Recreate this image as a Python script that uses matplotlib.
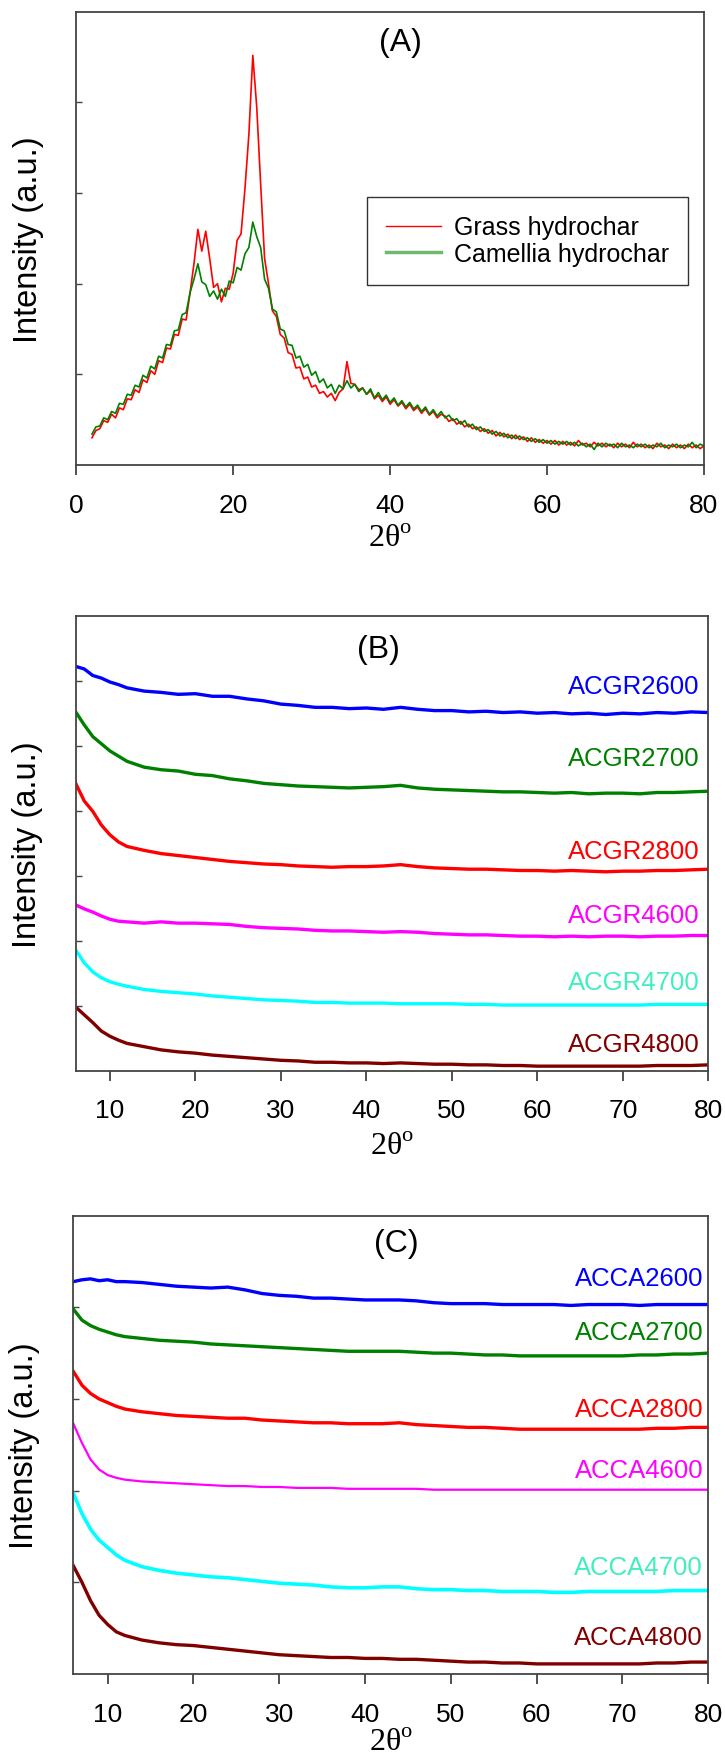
import matplotlib.pyplot as plt
from matplotlib.lines import Line2D
import numpy as np

plt.rcParams['font.family'] = ['Liberation Sans', 'DejaVu Sans']
plt.rcParams['mathtext.fontset'] = 'custom'
plt.rcParams['mathtext.rm'] = 'Liberation Serif'

# ---- panel A: hydrochars (2-theta grid, 0.5 degree steps) ----
two_theta_a = np.arange(2.0, 80.01, 0.5)
grass = [
    0.30, 0.38, 0.40, 0.49, 0.47, 0.56, 0.52, 0.63, 0.61, 0.73,
    0.72, 0.83, 0.80, 0.94, 0.91, 1.04, 1.00, 1.15, 1.13, 1.29,
    1.28, 1.44, 1.43, 1.61, 1.60, 1.90, 2.22, 2.60, 2.36, 2.58,
    2.28, 1.96, 2.00, 1.80, 1.95, 1.94, 2.12, 2.48, 2.55, 3.05,
    3.65, 4.52, 3.95, 3.10, 2.28, 2.00, 1.70, 1.64, 1.44, 1.40,
    1.24, 1.22, 1.07, 1.08, 0.95, 0.97, 0.86, 0.88, 0.79, 0.81,
    0.75, 0.79, 0.71, 0.80, 0.84, 1.14, 0.90, 0.89, 0.83, 0.85,
    0.78, 0.82, 0.73, 0.77, 0.70, 0.75, 0.67, 0.72, 0.65, 0.69,
    0.62, 0.67, 0.60, 0.64, 0.57, 0.62, 0.55, 0.59, 0.52, 0.56,
    0.54, 0.48, 0.51, 0.45, 0.48, 0.42, 0.45, 0.40, 0.42, 0.37,
    0.40, 0.35, 0.38, 0.32, 0.36, 0.31, 0.34, 0.29, 0.33, 0.28,
    0.31, 0.26, 0.30, 0.25, 0.28, 0.24, 0.27, 0.23, 0.27, 0.22,
    0.26, 0.22, 0.25, 0.21, 0.27, 0.22, 0.24, 0.20, 0.25, 0.21,
    0.24, 0.20, 0.23, 0.19, 0.24, 0.20, 0.23, 0.19, 0.25, 0.20,
    0.23, 0.19, 0.22, 0.18, 0.24, 0.20, 0.22, 0.18, 0.23, 0.19,
    0.22, 0.18, 0.23, 0.19, 0.22, 0.18, 0.21,
]
camellia = [
    0.34, 0.42, 0.43, 0.52, 0.50, 0.59, 0.57, 0.68, 0.67, 0.78,
    0.77, 0.88, 0.86, 0.99, 0.96, 1.09, 1.06, 1.20, 1.18, 1.33,
    1.32, 1.48, 1.49, 1.66, 1.68, 1.90, 2.05, 2.22, 2.02, 1.99,
    1.86, 1.92, 1.83, 1.94, 1.86, 2.03, 2.01, 2.18, 2.15, 2.33,
    2.40, 2.68, 2.52, 2.40, 2.05, 1.95, 1.72, 1.69, 1.50, 1.48,
    1.33, 1.32, 1.18, 1.20, 1.08, 1.11, 0.99, 1.03, 0.91, 0.95,
    0.85, 0.89, 0.79, 0.88, 0.84, 0.93, 0.85, 0.89, 0.81, 0.85,
    0.78, 0.84, 0.74, 0.80, 0.72, 0.77, 0.69, 0.74, 0.66, 0.71,
    0.64, 0.69, 0.62, 0.66, 0.59, 0.64, 0.56, 0.61, 0.54, 0.59,
    0.52, 0.55, 0.49, 0.51, 0.45, 0.49, 0.42, 0.45, 0.39, 0.42,
    0.37, 0.39, 0.34, 0.37, 0.32, 0.35, 0.30, 0.33, 0.29, 0.32,
    0.28, 0.30, 0.26, 0.29, 0.25, 0.28, 0.24, 0.27, 0.23, 0.26,
    0.23, 0.26, 0.22, 0.25, 0.21, 0.24, 0.20, 0.23, 0.17, 0.24,
    0.20, 0.24, 0.21, 0.23, 0.19, 0.24, 0.20, 0.22, 0.19, 0.23,
    0.20, 0.23, 0.19, 0.22, 0.20, 0.24, 0.19, 0.22, 0.20, 0.23,
    0.19, 0.22, 0.20, 0.25, 0.19, 0.23, 0.21,
]

# ---- panels B and C: activated carbons (offset curves) ----
two_theta_bc = [6, 7, 8, 9, 10, 11, 12] + list(range(14, 81, 2))

acgr_names = ['ACGR2600', 'ACGR2700', 'ACGR2800', 'ACGR4600', 'ACGR4700', 'ACGR4800']
acgr2600 = [6.22, 6.18, 6.08, 6.04, 5.98, 5.94, 5.89, 5.84, 5.82, 5.79, 5.80, 5.76, 5.76, 5.72,
            5.69, 5.64, 5.62, 5.59, 5.59, 5.57, 5.58, 5.56, 5.59, 5.56, 5.54, 5.54, 5.52, 5.53,
            5.51, 5.52, 5.50, 5.51, 5.49, 5.50, 5.48, 5.50, 5.49, 5.51, 5.50, 5.52, 5.51]
acgr2700 = [5.52, 5.32, 5.14, 5.03, 4.92, 4.84, 4.76, 4.67, 4.63, 4.61, 4.56, 4.54, 4.49, 4.46,
            4.42, 4.40, 4.38, 4.37, 4.36, 4.35, 4.36, 4.37, 4.39, 4.35, 4.33, 4.32, 4.31, 4.30,
            4.29, 4.29, 4.28, 4.27, 4.28, 4.26, 4.27, 4.27, 4.26, 4.28, 4.28, 4.29, 4.30]
acgr2800 = [4.42, 4.15, 3.99, 3.78, 3.63, 3.52, 3.45, 3.39, 3.34, 3.31, 3.28, 3.25, 3.22, 3.20,
            3.18, 3.17, 3.15, 3.14, 3.13, 3.14, 3.14, 3.15, 3.17, 3.14, 3.12, 3.11, 3.10, 3.10,
            3.09, 3.08, 3.08, 3.07, 3.08, 3.07, 3.06, 3.07, 3.07, 3.08, 3.08, 3.09, 3.10]
acgr4600 = [2.55, 2.49, 2.44, 2.38, 2.33, 2.30, 2.29, 2.27, 2.29, 2.27, 2.27, 2.26, 2.25, 2.22,
            2.20, 2.19, 2.18, 2.16, 2.15, 2.15, 2.14, 2.13, 2.14, 2.13, 2.11, 2.10, 2.09, 2.09,
            2.08, 2.07, 2.07, 2.06, 2.07, 2.06, 2.07, 2.07, 2.06, 2.07, 2.07, 2.08, 2.08]
acgr4700 = [1.86, 1.66, 1.52, 1.43, 1.37, 1.33, 1.30, 1.25, 1.22, 1.20, 1.18, 1.15, 1.13, 1.11,
            1.09, 1.08, 1.07, 1.05, 1.05, 1.04, 1.04, 1.04, 1.03, 1.03, 1.03, 1.03, 1.02, 1.02,
            1.01, 1.01, 1.01, 1.01, 1.01, 1.01, 1.01, 1.01, 1.01, 1.02, 1.02, 1.02, 1.02]
acgr4800 = [0.98, 0.86, 0.74, 0.61, 0.53, 0.47, 0.42, 0.37, 0.32, 0.29, 0.27, 0.24, 0.22, 0.20,
            0.18, 0.16, 0.15, 0.13, 0.13, 0.12, 0.12, 0.11, 0.12, 0.11, 0.10, 0.10, 0.09, 0.09,
            0.08, 0.08, 0.07, 0.07, 0.07, 0.07, 0.07, 0.07, 0.07, 0.08, 0.08, 0.08, 0.09]
acgr_label_y = [5.92, 4.81, 3.38, 2.40, 1.36, 0.41]

acca_names = ['ACCA2600', 'ACCA2700', 'ACCA2800', 'ACCA4600', 'ACCA4700', 'ACCA4800']
acca2600 = [4.28, 4.30, 4.31, 4.29, 4.30, 4.28, 4.28, 4.27, 4.25, 4.23, 4.22, 4.21, 4.22, 4.19,
            4.15, 4.13, 4.12, 4.10, 4.10, 4.09, 4.08, 4.08, 4.08, 4.07, 4.05, 4.04, 4.04, 4.04,
            4.03, 4.03, 4.03, 4.03, 4.02, 4.03, 4.03, 4.03, 4.02, 4.03, 4.03, 4.03, 4.03]
acca2700 = [3.98, 3.86, 3.80, 3.76, 3.73, 3.70, 3.68, 3.66, 3.64, 3.63, 3.62, 3.60, 3.59, 3.58,
            3.57, 3.56, 3.55, 3.54, 3.53, 3.52, 3.52, 3.52, 3.52, 3.51, 3.50, 3.50, 3.49, 3.48,
            3.48, 3.47, 3.47, 3.47, 3.47, 3.47, 3.47, 3.47, 3.48, 3.48, 3.49, 3.49, 3.50]
acca2800 = [3.30, 3.15, 3.06, 3.00, 2.96, 2.92, 2.89, 2.86, 2.84, 2.82, 2.81, 2.80, 2.79, 2.79,
            2.77, 2.76, 2.75, 2.74, 2.74, 2.73, 2.73, 2.73, 2.74, 2.72, 2.71, 2.70, 2.69, 2.69,
            2.68, 2.67, 2.67, 2.67, 2.67, 2.67, 2.67, 2.67, 2.67, 2.68, 2.68, 2.69, 2.69]
acca4600 = [2.73, 2.52, 2.34, 2.23, 2.17, 2.14, 2.12, 2.10, 2.09, 2.08, 2.07, 2.06, 2.05, 2.05,
            2.04, 2.04, 2.03, 2.03, 2.03, 2.02, 2.02, 2.02, 2.02, 2.02, 2.01, 2.01, 2.01, 2.01,
            2.01, 2.01, 2.01, 2.01, 2.01, 2.01, 2.01, 2.01, 2.01, 2.01, 2.01, 2.01, 2.01]
acca4700 = [1.97, 1.75, 1.58, 1.46, 1.38, 1.30, 1.24, 1.17, 1.13, 1.10, 1.08, 1.06, 1.05, 1.03,
            1.01, 0.99, 0.98, 0.97, 0.95, 0.94, 0.94, 0.95, 0.95, 0.93, 0.92, 0.92, 0.91, 0.91,
            0.90, 0.90, 0.90, 0.89, 0.89, 0.90, 0.90, 0.90, 0.90, 0.90, 0.91, 0.91, 0.91]
acca4800 = [1.18, 1.00, 0.80, 0.64, 0.54, 0.46, 0.42, 0.37, 0.34, 0.32, 0.31, 0.29, 0.27, 0.25,
            0.23, 0.21, 0.20, 0.19, 0.18, 0.18, 0.17, 0.17, 0.16, 0.16, 0.15, 0.14, 0.13, 0.13,
            0.12, 0.12, 0.11, 0.11, 0.11, 0.11, 0.11, 0.11, 0.11, 0.12, 0.12, 0.13, 0.13]
acca_label_y = [4.32, 3.73, 2.89, 2.22, 1.17, 0.40]

line_colors = ['#0000ff', '#008000', '#ff0000', '#ff00ff', '#00ffff', '#800000']
label_colors = ['#0000ff', '#008000', '#ff0000', '#ff00ff', '#40eec0', '#800000']
widths_b = [2.4, 2.4, 2.4, 2.4, 2.4, 2.4]
widths_c = [2.4, 2.4, 2.4, 1.6, 2.6, 2.4]


def style_axes(ax, xlim, xticks, ymax, label_y):
    ax.set_xlim(*xlim)
    ax.set_ylim(0, ymax)
    ax.set_xticks(xticks)
    ax.set_yticks(range(1, ymax))
    ax.tick_params(axis='x', direction='out', length=7, width=1.2, labelsize=19,
                   pad=13, color='#333333')
    ax.tick_params(axis='y', direction='in', length=4, width=1, labelleft=False,
                   color='#444444')
    for s in ax.spines.values():
        s.set_color('#444444')
        s.set_linewidth(1.3)
    ax.set_ylabel('Intensity (a.u.)', fontsize=23.5)
    ax.yaxis.set_label_coords(-0.052, 0.5)
    ax.set_xlabel(r'2θ$^{\mathrm{o}}$', fontsize=23, family='Liberation Serif')
    ax.xaxis.set_label_coords(0.5, label_y)


fig = plt.figure(figsize=(7.25, 17.65), dpi=100)

# (A)
ax_a = fig.add_axes([0.1052, 0.7360, 0.8658, 0.2567])
ax_a.plot(two_theta_a, grass, color='#ff0000', lw=1.2)
ax_a.plot(two_theta_a, camellia, color='#008000', lw=1.2)
style_axes(ax_a, (0, 80), [0, 20, 40, 60, 80], 5, -0.13)
ax_a.text(0.516, 0.934, '(A)', transform=ax_a.transAxes, fontsize=23,
          ha='center', va='center')
handles = [Line2D([], [], color='#ff0000', lw=1.0),
           Line2D([], [], color='#70b870', lw=2.5)]
leg = ax_a.legend(handles, ['Grass hydrochar', 'Camellia hydrochar'],
                  loc='upper left', bbox_to_anchor=(0.463, 0.592), fontsize=18,
                  frameon=True, fancybox=False, edgecolor='black',
                  handlelength=2.2, handletextpad=0.55, labelspacing=0.1,
                  borderpad=0.75, borderaxespad=0)
leg.get_frame().set_linewidth(1.0)

# (B)
ax_b = fig.add_axes([0.1044, 0.3928, 0.8726, 0.2578])
for series, c, w in zip([acgr2600, acgr2700, acgr2800, acgr4600, acgr4700, acgr4800],
                        line_colors, widths_b):
    ax_b.plot(two_theta_bc, series, color=c, lw=w)
for name, y, c in zip(acgr_names, acgr_label_y, label_colors):
    ax_b.text(79.0, y, name, color=c, fontsize=18.5, ha='right', va='center')
style_axes(ax_b, (6, 80), [10, 20, 30, 40, 50, 60, 70, 80], 7, -0.135)
ax_b.text(0.478, 0.927, '(B)', transform=ax_b.transAxes, fontsize=23,
          ha='center', va='center')

# (C)
ax_c = fig.add_axes([0.1012, 0.0510, 0.8757, 0.2597])
for series, c, w in zip([acca2600, acca2700, acca2800, acca4600, acca4700, acca4800],
                        line_colors, widths_c):
    ax_c.plot(two_theta_bc, series, color=c, lw=w)
for name, y, c in zip(acca_names, acca_label_y, label_colors):
    ax_c.text(79.4, y, name, color=c, fontsize=18.5, ha='right', va='center')
style_axes(ax_c, (6, 80), [10, 20, 30, 40, 50, 60, 70, 80], 5, -0.117)
ax_c.text(0.508, 0.940, '(C)', transform=ax_c.transAxes, fontsize=23,
          ha='center', va='center')

fig.savefig('out.png', dpi=100, facecolor='white')
